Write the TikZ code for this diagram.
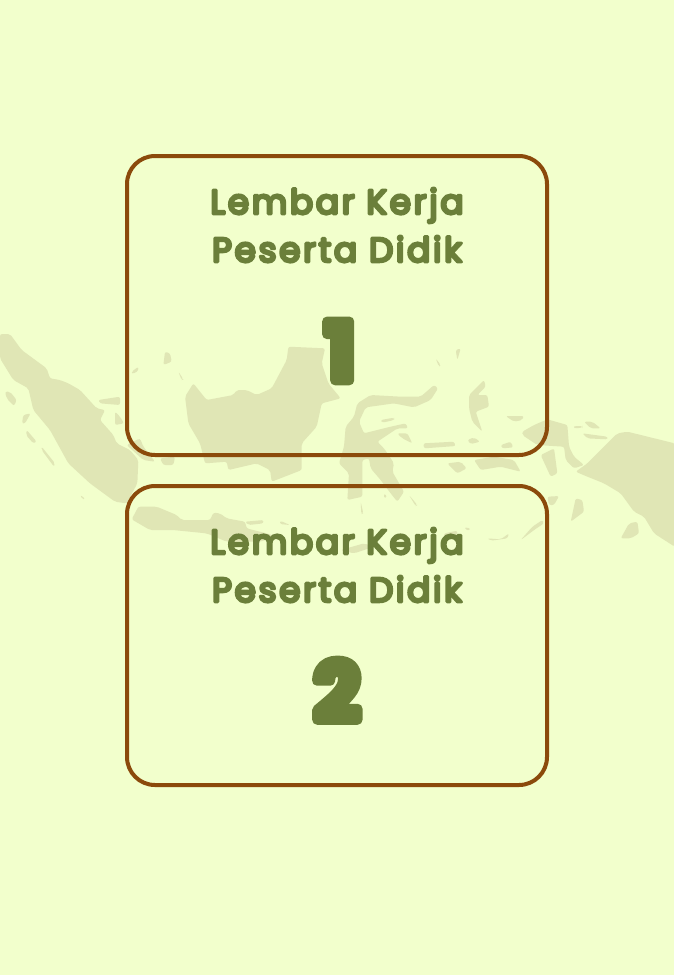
\documentclass[tikz,border=0pt]{standalone}
\usepackage{fontspec}
\usepackage{xcolor}
\usetikzlibrary{positioning}
\setmainfont{Poppins}[LetterSpace=8]
\definecolor{paperLime}{HTML}{F2FFCC}
\definecolor{mapOlive}{HTML}{E0E6B5}
\definecolor{frameBrown}{HTML}{8B4A0B}
\definecolor{inkGreen}{HTML}{6B7F3A}
% soft outline on the glyphs, round ends
\newcommand{\softink}[2]{\special{pdf:code q 2 Tr #1 w 1 J 1 j 0.42 0.498 0.227 RG}#2\special{pdf:code Q}}

\begin{document}
\begin{tikzpicture}[
    framenode/.style={rectangle, draw=frameBrown, line width=0.08cm, rounded corners=0.56cm, minimum width=8.4cm, minimum height=5.98cm, outer sep=0pt},
    titlenode/.style={align=center, text=inkGreen, inner sep=0pt, font=\fontsize{19.5}{27.3}\selectfont},
    numnode/.style={text=inkGreen, inner sep=0pt, font=\fontsize{46}{52}\selectfont\bfseries},
    isle/.style={fill=mapOlive, rounded corners=1.2pt}
  ]
    \useasboundingbox[fill=paperLime] (0,0) rectangle (13.48,-19.5);

    % western half of the map
    \begin{scope}[shift={(0cm,-6.4cm)}, x=0.00667cm, y=-0.00667cm]
      \fill[isle] (0,42) -- (30,42) -- (65,90) -- (140,145) -- (150,175) -- (180,180) -- (205,190) -- (240,210) -- (290,265) -- (315,270) -- (300,300) -- (340,345) -- (350,370) -- (390,390) -- (415,420) -- (412,490) -- (380,550) -- (345,545) -- (270,490) -- (205,430) -- (150,330) -- (100,270) -- (85,205) -- (40,180) -- (0,115) -- cycle;
      \fill[isle] (555,230) -- (580,190) -- (620,240) -- (700,225) -- (710,210) -- (740,210) -- (770,225) -- (815,205) -- (860,120) -- (865,80) -- (975,85) -- (965,130) -- (985,190) -- (1022,235) -- (965,250) -- (950,320) -- (905,370) -- (905,450) -- (815,485) -- (810,450) -- (770,430) -- (685,450) -- (680,425) -- (615,430) -- (600,370) -- (565,310) -- cycle;
      \fill[isle] (415,560) -- (470,560) -- (530,585) -- (545,600) -- (630,600) -- (640,578) -- (660,580) -- (680,595) -- (735,605) -- (740,625) -- (800,640) -- (830,650) -- (780,665) -- (680,665) -- (620,640) -- (520,630) -- (450,630) -- (395,598) -- cycle;
      \fill[isle] (15,215) -- (30,215) -- (50,240) -- (42,258) -- (20,235) -- cycle;
      \fill[isle] (70,285) -- (92,280) -- (75,310) -- (66,310) -- cycle;
      \fill[isle] (80,330) -- (110,365) -- (100,370) -- (78,345) -- cycle;
      \fill[isle] (125,380) -- (165,430) -- (162,440) -- (125,390) -- cycle;
      \fill[isle] (240,525) -- (255,535) -- (248,538) -- cycle;
      \fill[isle] (295,240) -- (360,230) -- (360,255) -- (300,250) -- cycle;
      \fill[isle] (345,275) -- (360,290) -- (372,310) -- (345,315) -- cycle;
      \fill[isle] (380,375) -- (420,355) -- (430,380) -- (465,425) -- (430,420) -- cycle;
      \fill[isle] (480,415) -- (525,410) -- (520,435) -- (490,435) -- cycle;
      \fill[isle] (495,95) -- (510,100) -- (515,125) -- (490,135) -- cycle;
      \fill[isle] (395,155) -- (415,140) -- (415,152) -- (398,162) -- cycle;
      \fill[isle] (535,155) -- (550,178) -- (545,180) -- cycle;
      \fill[isle] (735,605) -- (790,600) -- (790,610) -- (745,615) -- cycle;
      \fill[isle] (840,602) -- (870,615) -- (840,612) -- cycle;
    \end{scope}

    % eastern half of the map
    \begin{scope}[shift={(6.68cm,-6.4cm)}, x=0.00667cm, y=-0.00667cm]
      \fill[isle] (60,290) -- (70,250) -- (110,225) -- (200,230) -- (260,230) -- (300,195) -- (312,205) -- (290,240) -- (240,262) -- (180,250) -- (95,262) -- (75,305) -- (90,340) -- (130,330) -- (170,320) -- (215,310) -- (222,325) -- (190,325) -- (130,365) -- (150,385) -- (180,430) -- (175,455) -- (210,515) -- (190,545) -- (170,520) -- (140,480) -- (110,445) -- (105,415) -- (85,420) -- (85,530) -- (40,540) -- (45,460) -- (15,430) -- (30,380) -- (35,320) -- cycle;
      \fill[isle] (725,455) -- (760,430) -- (790,400) -- (850,340) -- (880,335) -- (1022,370) -- (1022,680) -- (960,640) -- (930,590) -- (900,575) -- (860,520) -- (810,490) -- (760,470) -- cycle;
      \fill[isle] (565,335) -- (600,315) -- (640,298) -- (700,315) -- (705,380) -- (720,410) -- (750,435) -- (720,445) -- (695,420) -- (690,380) -- (610,375) -- (565,345) -- cycle;
      \fill[isle] (405,225) -- (450,180) -- (455,200) -- (430,225) -- (460,225) -- (465,260) -- (425,275) -- (445,335) -- (415,305) -- (405,265) -- cycle;
      \fill[isle] (420,420) -- (480,410) -- (540,420) -- (560,455) -- (500,440) -- (440,450) -- cycle;
      \fill[isle] (340,430) -- (380,425) -- (398,445) -- (370,460) -- cycle;
      \fill[isle] (560,660) -- (595,620) -- (625,600) -- (630,610) -- (600,630) -- cycle;
      \fill[isle] (710,605) -- (725,535) -- (745,540) -- (750,575) -- cycle;
      \fill[isle] (860,655) -- (885,610) -- (910,605) -- (915,640) -- (890,655) -- cycle;
      \fill[isle] (620,405) -- (660,385) -- (670,460) -- (650,470) -- cycle;
      \fill[isle] (268,370) -- (360,365) -- (365,378) -- (270,385) -- cycle;
      \fill[isle] (400,360) -- (420,352) -- (438,365) -- (410,372) -- cycle;
      \fill[isle] (500,375) -- (530,365) -- (538,382) -- (505,385) -- cycle;
      \fill[isle] (515,288) -- (570,288) -- (565,300) -- (540,305) -- cycle;
      \fill[isle] (750,305) -- (775,305) -- (800,325) -- (770,325) -- cycle;
      \fill[isle] (720,318) -- (745,318) -- (745,323) -- (720,325) -- cycle;
      \fill[isle] (745,340) -- (820,350) -- (820,358) -- (760,355) -- cycle;
      \fill[isle] (140,300) -- (180,293) -- (180,300) -- (145,308) -- cycle;
      \fill[isle] (190,340) -- (220,340) -- (235,370) -- (205,355) -- cycle;
      \fill[isle] (305,115) -- (320,135) -- (315,140) -- cycle;
      \fill[isle] (365,90) -- (380,85) -- (370,120) -- cycle;
      \fill[isle] (330,640) -- (370,632) -- (370,645) -- (330,650) -- cycle;
      \fill[isle] (20,690) -- (90,670) -- (120,680) -- (60,700) -- cycle;
      \fill[isle] (460,655) -- (500,658) -- (525,640) -- (520,655) -- (470,662) -- cycle;
      \fill[isle] (390,622) -- (410,625) -- (402,633) -- cycle;
      \fill[isle] (150,520) -- (160,530) -- (150,535) -- cycle;
      \fill[isle] (225,525) -- (250,555) -- (245,558) -- cycle;
      \fill[isle] (80,545) -- (88,580) -- (82,582) -- cycle;
      \fill[isle] (640,530) -- (675,528) -- (660,555) -- (645,555) -- cycle;
    \end{scope}

    \node[framenode] (box1) at (6.74,-6.11) {};
    \node[framenode, below=0.62cm of box1] (box2) {};

    \node[titlenode, below=0.63cm of box1.north] (title1) {\softink{1.6}{Lembar Kerja}\\\softink{1.6}{Peserta Didik}};
    \node[titlenode, below=0.83cm of box2.north] (title2) {\softink{1.6}{Lembar Kerja}\\\softink{1.6}{Peserta Didik}};
    \node[numnode, below=1.17cm of title1, xshift=0.06cm] (num1) {\softink{5.5}{1}};
    \node[numnode, below=1.15cm of title2] (num2) {\softink{5.5}{2}};
  \end{tikzpicture}
\end{document}
